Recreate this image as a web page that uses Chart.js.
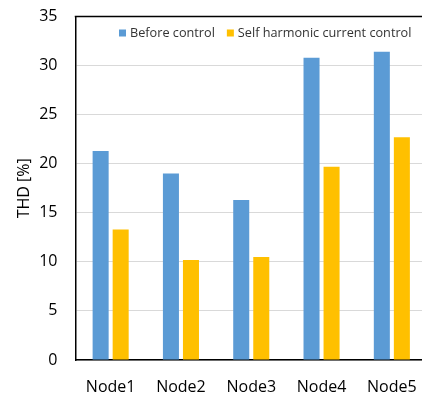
<!DOCTYPE html>
<html>
<head>
<meta charset="utf-8">
<script src="https://cdn.jsdelivr.net/npm/chart.js@4.4.0/dist/chart.umd.min.js"></script>
<style>
html,body{margin:0;padding:0;background:#fff;overflow:hidden;}
#wrap{width:430px;height:394px;position:relative;}
</style>
</head>
<body>
<div id="wrap"><canvas id="c" width="430" height="394"></canvas></div>
<script>
const categories = ["Node1", "Node2", "Node3", "Node4", "Node5"];
const beforeControl = [21.3, 19.0, 16.3, 30.8, 31.4];
const selfHarmonic = [13.3, 10.2, 10.5, 19.7, 22.7];
const seriesNames = ["Before control", "Self harmonic current control"];
const yTicks = [0, 5, 10, 15, 20, 25, 30, 35];
const yTitle = "THD [%]";

const FONT = "'Open Sans', sans-serif";

const framePlugin = {
  id: 'topFrame',
  afterDraw(chart) {
    const a = chart.chartArea;
    const ctx = chart.ctx;
    ctx.save();
    ctx.strokeStyle = '#000';
    ctx.lineWidth = 1.5;
    ctx.beginPath();
    ctx.moveTo(a.left - 0.75, a.top);
    ctx.lineTo(a.right, a.top);
    ctx.stroke();
    ctx.restore();
  }
};

const legendPlugin = {
  id: 'insideLegend',
  afterDraw(chart) {
    const ctx = chart.ctx;
    ctx.save();
    ctx.font = "12.7px " + FONT;
    ctx.textBaseline = 'middle';
    ctx.textAlign = 'left';
    let x = 119;
    const y = 33;
    chart.data.datasets.forEach((ds) => {
      ctx.fillStyle = ds.backgroundColor;
      ctx.fillRect(x, y - 3.5, 7, 7);
      x += 11;
      ctx.fillStyle = '#333333';
      ctx.fillText(ds.label, x, y + 0.5);
      x += ctx.measureText(ds.label).width + 12;
    });
    ctx.restore();
  }
};

new Chart(document.getElementById('c'), {
  type: 'bar',
  data: {
    labels: categories,
    datasets: [
      { label: seriesNames[0], data: beforeControl, backgroundColor: '#5B9BD5', barPercentage: 0.8, categoryPercentage: 0.57 },
      { label: seriesNames[1], data: selfHarmonic, backgroundColor: '#FFC000', barPercentage: 0.8, categoryPercentage: 0.57 }
    ]
  },
  options: {
    responsive: false,
    animation: false,
    devicePixelRatio: 1,
    layout: { padding: { left: 0, right: 3, top: 16.5, bottom: 0 } },
    plugins: { legend: { display: false }, tooltip: { enabled: false } },
    scales: {
      x: {
        grid: { display: false, drawTicks: false },
        border: { display: true, color: '#000', width: 1.5 },
        ticks: { color: '#000', font: { family: FONT, size: 16 }, padding: 18 },
        afterFit(scale) { scale.height = 34; scale.paddingLeft = 0; scale.paddingRight = 0; }
      },
      y: {
        min: 0, max: 35,
        afterBuildTicks(scale) { scale.ticks = yTicks.map(v => ({ value: v })); },
        grid: { drawTicks: false, color: '#d9d9d9', lineWidth: 1 },
        border: { display: true, color: '#000', width: 1.5 },
        ticks: { color: '#000', font: { family: FONT, size: 16 }, padding: 18 },
        title: { display: true, text: yTitle, color: '#000', font: { family: FONT, size: 16 }, padding: { top: 15, bottom: 0 } },
        afterFit(scale) { scale.width = 75.5; scale.paddingTop = 0; scale.paddingBottom = 0; }
      }
    }
  },
  plugins: [legendPlugin, framePlugin]
});
</script>
</body>
</html>
